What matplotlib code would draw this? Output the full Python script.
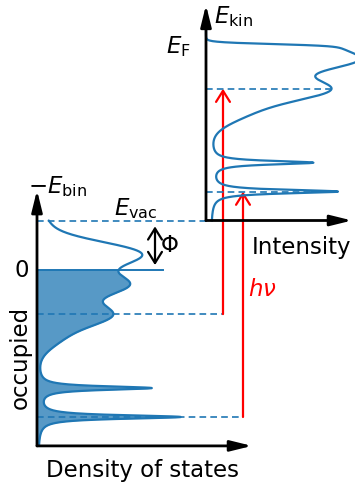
import numpy as np
import matplotlib
matplotlib.use("Agg")
import matplotlib.pyplot as plt

# ---------------- data ----------------
# model density of states: peaks relative to the Fermi level (eV)
peak_energy = [0.63, 1.95, -0.63, -1.82, -2.71, -4.84, -6.02]
peak_height = [102, 8, 85, 68, 22, 113, 142]          # arb. units
peak_width = [0.51, 0.41, 0.46, 0.45, 0.49, 0.09, 0.09]
peak_shape = ["gauss", "gauss", "gauss", "gauss", "gauss", "lorentz", "lorentz"]
# relative weights of the peaks in the measured photoemission spectrum
spectrum_weight = [1.62, 1.62, 1.62, 1.6, 1.6, 0.9, 0.89]
dos_baseline = 1.0
spectrum_background = 5.0
work_function = 2.0      # Phi (eV)
photon_energy = 9.2      # h nu (eV)
kT = 0.04
E_bottom = -7.2          # lowest binding energy drawn
E_kin_top = 7.92         # highest kinetic energy drawn
excited_peaks = [3, 6]   # indices of peaks excited by the red arrows

BLUE = "#1f77b4"
RED = "#ff0000"

plt.rcParams["font.family"] = ["DejaVu Sans"]
plt.rcParams["mathtext.fontset"] = "dejavusans"
FS = 16.5


def dos(E, weights=None):
    total = np.zeros_like(E)
    for i, (c, h, w, s) in enumerate(zip(peak_energy, peak_height, peak_width, peak_shape)):
        f = 1.0 if weights is None else weights[i]
        if s == "gauss":
            total += f * h * np.exp(-0.5 * ((E - c) / w) ** 2)
        else:
            total += f * h / (1 + ((E - c) / w) ** 2)
    return total


def fermi(E):
    return 0.5 * (1 - np.tanh(E / (2 * kT)))


# ---------------- layout ----------------
W, H = 355, 488
PX_PER_EV = 24.5
fig = plt.figure(figsize=(W / 100, H / 100), dpi=100)

# left panel: origin at px (37, 269.5)  (E_F level)
xl0, yl0 = 37, 269.5
axL = fig.add_axes([0, 0, 1, 1])
axL.set_xlim(-xl0, W - xl0)
axL.set_ylim((yl0 - H) / PX_PER_EV, yl0 / PX_PER_EV)
axL.axis("off")

# right panel: origin at the vacuum level, shifted to the right
xr0 = 206
yr0 = yl0 - work_function * PX_PER_EV
axR = fig.add_axes([0, 0, 1, 1])
axR.set_xlim(-xr0, W - xr0)
axR.set_ylim((yr0 - H) / PX_PER_EV, yr0 / PX_PER_EV)
axR.axis("off")
axR.patch.set_alpha(0)

axis_arrow = dict(arrowstyle="-|>,head_length=0.65,head_width=0.16", color="k",
                  lw=2.0, mutation_scale=20, shrinkA=0, shrinkB=0)
red_arrow = dict(arrowstyle="->,head_length=0.4,head_width=0.25", color=RED,
                 lw=1.6, mutation_scale=20, shrinkA=0, shrinkB=0)

# ---------- left: density of states ----------
E = np.linspace(E_bottom, work_function, 4000)
D = dos(E) + dos_baseline
occ = E <= 0
axL.fill_betweenx(E[occ], 0, D[occ], color=BLUE, alpha=0.75, lw=0)
axL.plot(D, E, color=BLUE, lw=1.6, solid_capstyle="round")
axL.plot([0, 126], [0, 0], color=BLUE, lw=1.4)

# dashed levels
x_right_axis = xr0 - xl0
arrow_x = [186, 206]
axL.plot([0, x_right_axis], [work_function] * 2, color=BLUE, lw=1.2, dashes=(4, 2.5))
for k, ax_x in zip(excited_peaks, arrow_x):
    axL.plot([0, ax_x], [peak_energy[k]] * 2, color=BLUE, lw=1.2, dashes=(4, 2.5))

# axes arrows
axL.annotate("", xy=(0, 3.24), xytext=(0, E_bottom), arrowprops=axis_arrow)
axL.annotate("", xy=(215, E_bottom), xytext=(0, E_bottom), arrowprops=axis_arrow)

# work function double arrow
axL.annotate("", xy=(118, work_function - 0.24), xytext=(118, 0.18),
             arrowprops=dict(arrowstyle="<->,head_length=0.4,head_width=0.25",
                             color="k", lw=1.6, mutation_scale=20,
                             shrinkA=0, shrinkB=0))

# photon arrows
for k, ax_x in zip(excited_peaks, arrow_x):
    axL.annotate("", xy=(ax_x, peak_energy[k] + photon_energy),
                 xytext=(ax_x, peak_energy[k]), arrowprops=red_arrow)

# ---------- right: photoemission spectrum ----------
Ek = np.linspace(0, E_kin_top, 4000)
Eb = Ek - photon_energy + work_function
I = fermi(Eb) * (dos(Eb, spectrum_weight) + spectrum_background)
axR.plot(I, Ek, color=BLUE, lw=1.6)
for k in excited_peaks:
    ek = peak_energy[k] + photon_energy - work_function
    e_arr = np.array([peak_energy[k]])
    ik = fermi(e_arr) * (dos(e_arr, spectrum_weight) + spectrum_background)
    axR.plot([0, ik[0]], [ek, ek], color=BLUE, lw=1.2, dashes=(4, 2.5))

axR.annotate("", xy=(0, 8.8), xytext=(0, 0), arrowprops=axis_arrow)
axR.annotate("", xy=(146, 0), xytext=(0, 0), arrowprops=axis_arrow)


# ---------------- text ----------------
def ftext(x, y, s, **kw):
    kw.setdefault("fontsize", FS)
    fig.text(x / W, 1 - y / H, s, **kw)


ftext(28, 193, r"$-E_{\mathrm{bin}}$", ha="left", va="baseline")
ftext(114, 215, r"$E_{\mathrm{vac}}$", ha="left", va="baseline")
ftext(160, 252, r"$\Phi$", ha="left", va="baseline")
ftext(22, 277, "0", ha="center", va="baseline")
ftext(20, 357, "occupied", ha="center", va="center", rotation=90)
ftext(143, 477, "Density of states", ha="center", va="baseline")
ftext(214, 23, r"$E_{\mathrm{kin}}$", ha="left", va="baseline")
ftext(166, 53, r"$E_{\mathrm{F}}$", ha="left", va="baseline")
ftext(252, 254, "Intensity", ha="left", va="baseline")
ftext(248, 296, r"$h\nu$", ha="left", va="baseline", color=RED)

fig.savefig("out.png", dpi=100)
